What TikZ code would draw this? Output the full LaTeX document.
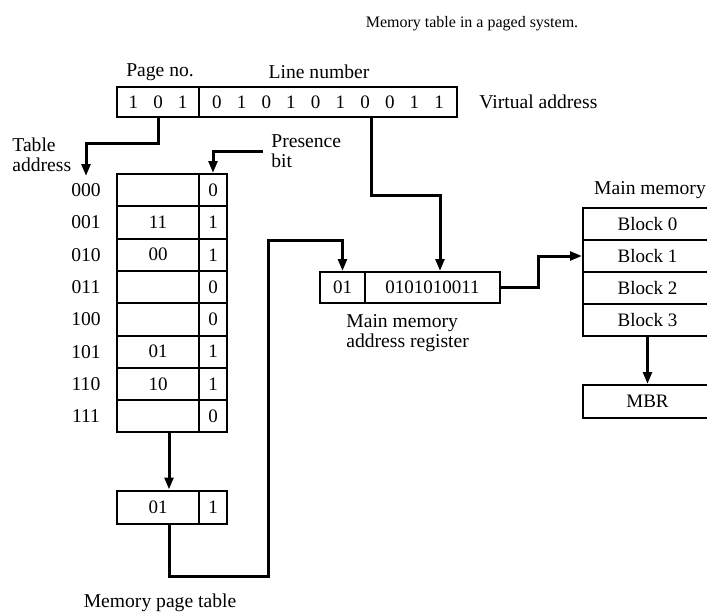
\documentclass[tikz,border=0pt]{standalone}
\usepackage{fontspec}
\setmainfont{Liberation Serif}
\usetikzlibrary{arrows.meta, calc, positioning}
\newcommand{\dgap}{\hspace{7.6pt}}

\begin{document}
\begin{tikzpicture}[x=0.5pt, y=-0.5pt,
    cell/.style={draw, line width=1pt, inner sep=0pt, font=\fontsize{9.5}{10}\selectfont},
    lbl/.style={inner sep=0pt, font=\fontsize{9.8}{10}\selectfont},
    arr/.style={line width=1.5pt, -{Triangle[length=6pt,width=4.4pt]}}]
    \useasboundingbox (0,0) rectangle (707,612);

    % Virtual address
    \node[lbl, font=\fontsize{8}{9}\selectfont] (title) at (472,24) {Memory table in a paged system.};
    \node[cell, minimum width=41pt, minimum height=15pt] (pageno) at (158,102) {1\dgap 0\dgap 1};
    \node[cell, minimum width=129pt, minimum height=15pt] (linenum) at (328,102)
        {0\dgap 1\dgap 0\dgap 1\dgap 0\dgap 1\dgap 0\dgap 0\dgap 1\dgap 1};
    \node[lbl] (pglab) at (160,72) {Page no.};
    \node[lbl] (lnlab) at (319,72) {Line number};
    \node[lbl, anchor=west] (valab) at (479,102) {Virtual address};

    % Page table
    \node[lbl, align=left, anchor=west] (taddr) at (12,155) {Table\\address};
    \node[lbl, align=left, anchor=west] (pres) at (271,151) {Presence\\bit};
    \foreach \i/\lab/\frm/\pbit in {0/000//0, 1/001/11/1, 2/010/00/1, 3/011//0,
                                    4/100//0, 5/101/01/1, 6/110/10/1, 7/111//0} {
        \node[cell, minimum width=41pt, minimum height=16.15pt] (frm-\i) at (158,{174+32.3*(\i+0.5)}) {\frm};
        \node[cell, minimum width=14pt, minimum height=16.15pt] (bit-\i) at (213,{174+32.3*(\i+0.5)}) {\pbit};
        \node[lbl] (row-\i) at (86,{174+32.3*(\i+0.5)}) {\lab};
    }

    % Selected entry
    \node[cell, minimum width=41pt, minimum height=16.5pt] (lowf) at (158,507) {01};
    \node[cell, minimum width=14pt, minimum height=16.5pt] (lowb) at (213,507) {1};
    \node[lbl] (ptlab) at (160,603) {Memory page table};

    % Main memory address register
    \node[cell, minimum width=22.5pt, minimum height=15.5pt] (regp) at (342.5,287.5) {01};
    \node[cell, minimum width=67.5pt, minimum height=15.5pt] (regl) at (432.5,287.5) {0101010011};
    \node[lbl, align=left, anchor=north west] (reglab) at (346,314) {Main memory\\address register};

    % Main memory
    \node[lbl] (mmlab) at (650,190) {Main memory};
    \foreach \k in {0,...,3} {
        \node[cell, minimum width=64.5pt, minimum height=16pt] (blk-\k) at (647.5,{208+32*(\k+0.5)}) {Block \k};
    }
    \node[cell, minimum width=64.5pt, minimum height=16.5pt] (mbr) at (647.5,401.5) {MBR};

    % Connectors
    \coordinate (tatip) at (86,176);
    \draw[arr] (pageno.south) -- ++(0,25) -| (tatip);
    \draw[arr] ([xshift=-4pt]pres.west) -| (bit-0.north);
    \draw[arr] ([xshift=5.5pt]frm-7.south) -- ([xshift=5.5pt]lowf.north);
    \coordinate (lowbend) at (268,576);
    \coordinate (regbend) at (268,240);
    \draw[arr] ([xshift=5.5pt]lowf.south) |- (lowbend) -- (regbend) -| (regp.north);
    \coordinate (lnbend) at (440,195);
    \draw[arr] ([xshift=21.5pt]linenum.south) |- (lnbend) -- (lnbend |- regl.north);
    \coordinate (mmbend) at (538,256);
    \draw[arr] (regl.east) -| (mmbend) -- (blk-1.west);
    \draw[arr] (blk-3.south) -- (mbr.north);
\end{tikzpicture}
\end{document}
